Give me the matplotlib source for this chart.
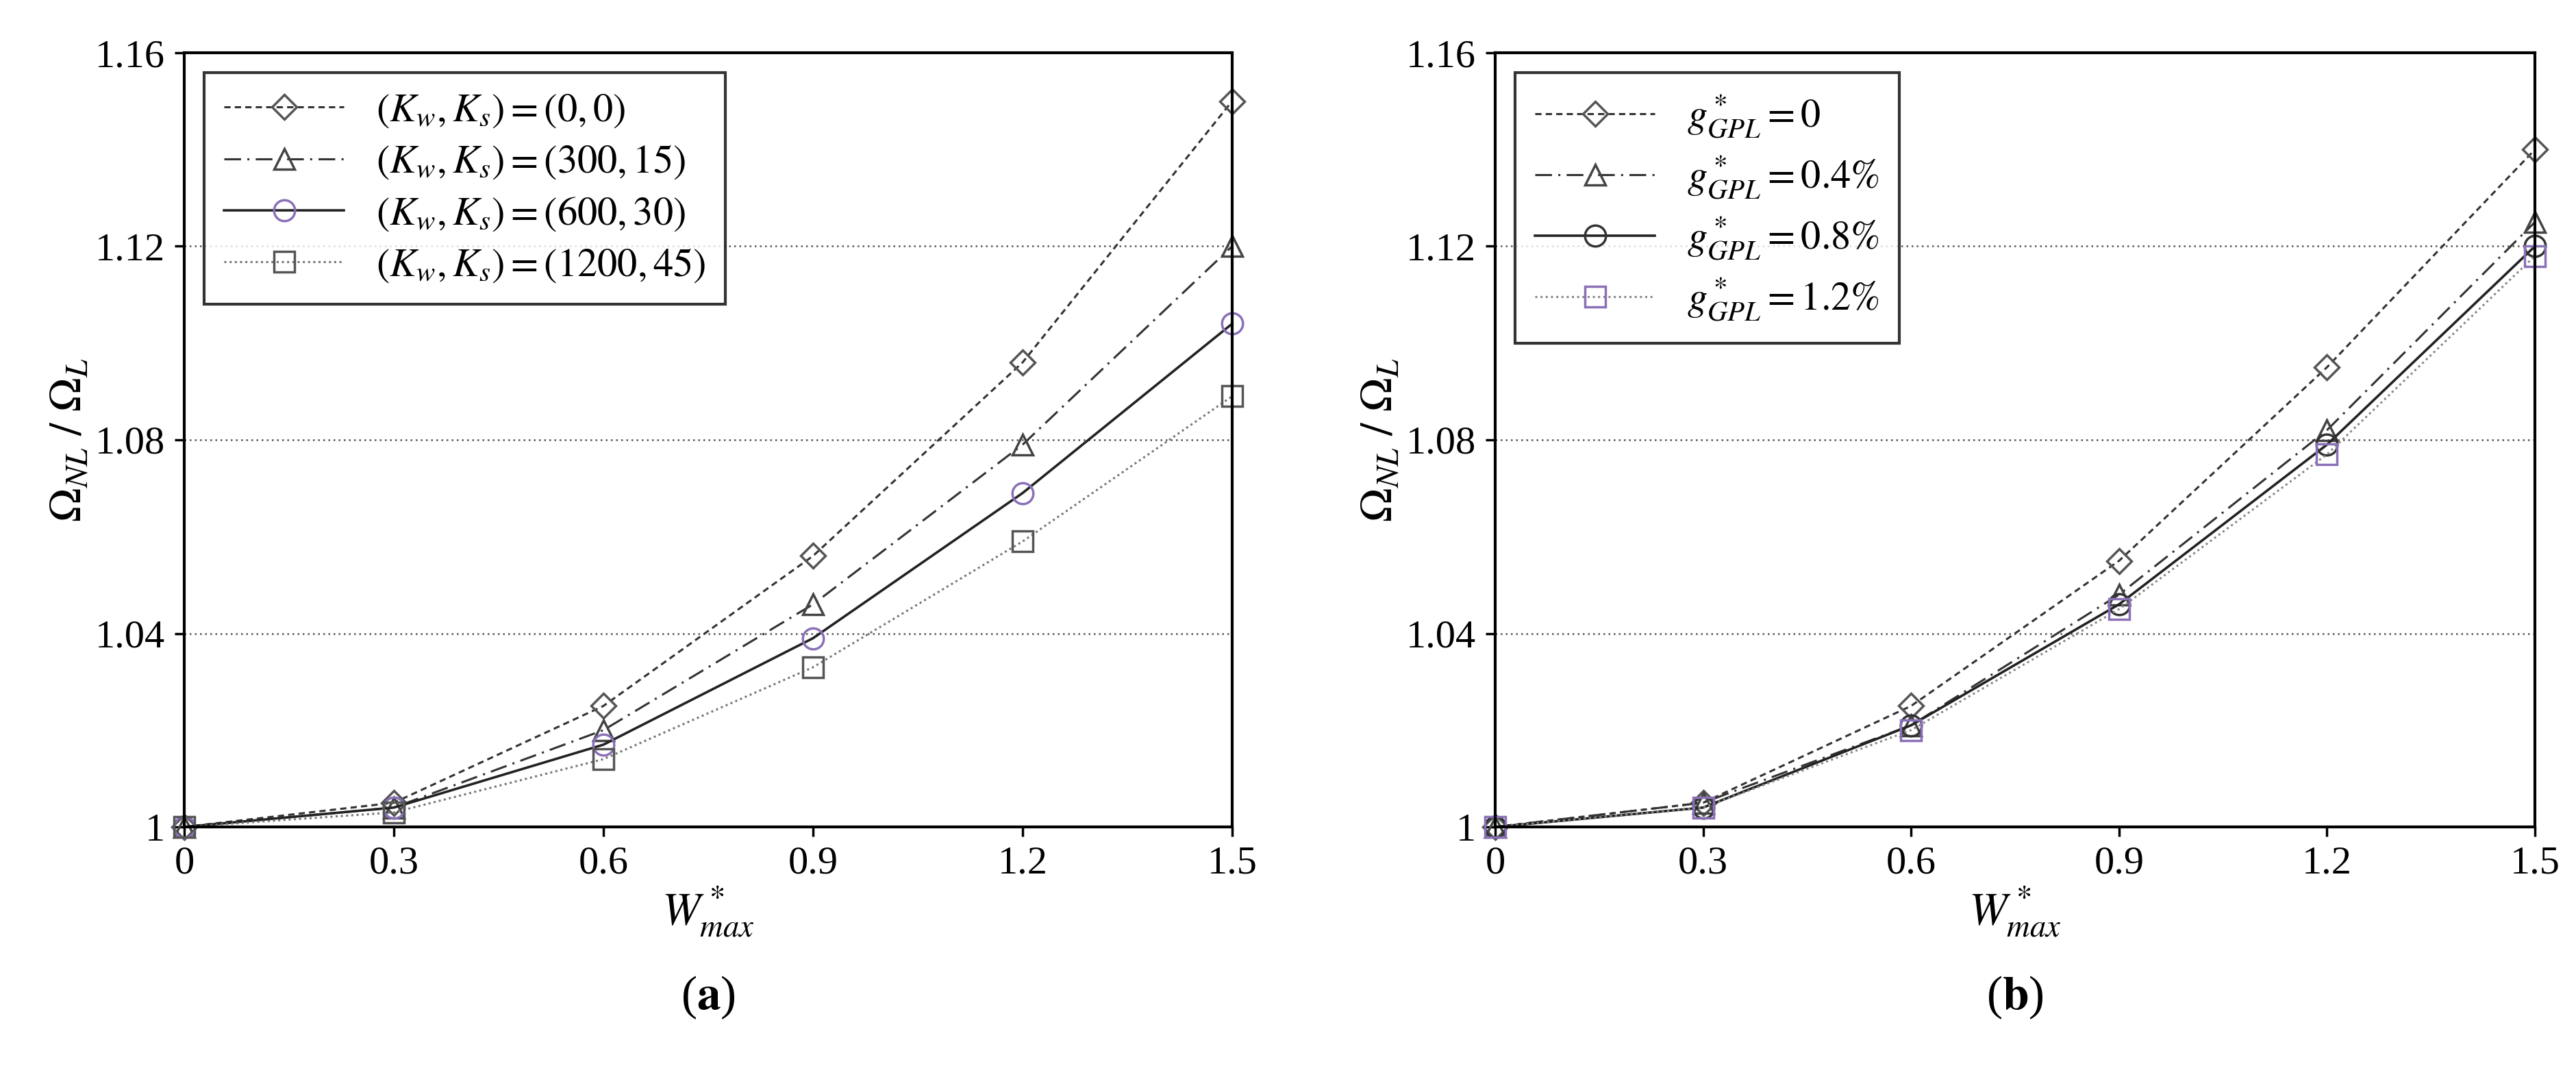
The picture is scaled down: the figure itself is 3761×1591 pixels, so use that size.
import matplotlib
matplotlib.use("Agg")
import matplotlib.pyplot as plt
import numpy as np

plt.rcParams['font.family'] = ['Liberation Serif', 'DejaVu Serif']
plt.rcParams['mathtext.fontset'] = 'stix'

x = [0, 0.3, 0.6, 0.9, 1.2, 1.5]
a_labels = [r'$(K_w,K_s)=(0,0)$', r'$(K_w,K_s)=(300,15)$', r'$(K_w,K_s)=(600,30)$', r'$(K_w,K_s)=(1200,45)$']
a_vals = [
    [1, 1.005, 1.025, 1.056, 1.096, 1.150],
    [1, 1.004, 1.020, 1.046, 1.079, 1.120],
    [1, 1.004, 1.017, 1.039, 1.069, 1.104],
    [1, 1.003, 1.014, 1.033, 1.059, 1.089],
]
b_labels = [r'$g^*_{GPL}=0$', r'$g^*_{GPL}=0.4\%$', r'$g^*_{GPL}=0.8\%$', r'$g^*_{GPL}=1.2\%$']
b_vals = [
    [1, 1.005, 1.025, 1.055, 1.095, 1.140],
    [1, 1.005, 1.021, 1.048, 1.082, 1.125],
    [1, 1.004, 1.021, 1.046, 1.079, 1.120],
    [1, 1.004, 1.020, 1.045, 1.077, 1.118],
]
yticks = [1, 1.04, 1.08, 1.12, 1.16]
ytick_labels = ['1', '1.04', '1.08', '1.12', '1.16']
xticks = [0, 0.3, 0.6, 0.9, 1.2, 1.5]

fig = plt.figure(figsize=(37.61, 15.91), dpi=100)
W, H = 3761, 1591
axa = fig.add_axes([269/W, 1-1207/H, (1799-269)/W, (1207-77)/H])
axb = fig.add_axes([2183/W, 1-1207/H, (3701-2183)/W, (1207-77)/H])

styles_a = [
    dict(ls=(0, (3, 2)), marker='D', color='#333333', mec='#555555', lw=2.2, ms=18),
    dict(ls=(0, (8, 3, 1, 3)), marker='^', color='#333333', mec='#444444', lw=2.2, ms=22),
    dict(ls='-', marker='o', color='#222222', mec='#8a70b8', lw=2.6, ms=22),
    dict(ls=(0, (1, 1.5)), marker='s', color='#777777', mec='#555555', lw=2.2, ms=22),
]
styles_b = [
    dict(ls=(0, (3, 2)), marker='D', color='#333333', mec='#555555', lw=2.2, ms=18),
    dict(ls=(0, (8, 3, 1, 3)), marker='^', color='#333333', mec='#444444', lw=2.2, ms=22),
    dict(ls='-', marker='o', color='#222222', mec='#333333', lw=2.6, ms=22),
    dict(ls=(0, (1, 1.5)), marker='s', color='#888888', mec='#8a70b8', lw=2.2, ms=22),
]

for ax, vals, labels, styles, tag in [(axa, a_vals, a_labels, styles_a, 'a'), (axb, b_vals, b_labels, styles_b, 'b')]:
    for v, l, s in zip(vals, labels, styles):
        ax.plot(x, v, label=l, mfc='none', mew=2.5, clip_on=False, **s)
    ax.set_xlim(0, 1.5)
    ax.set_ylim(1, 1.16)
    ax.set_xticks(xticks)
    ax.set_xticklabels(['0', '0.3', '0.6', '0.9', '1.2', '1.5'])
    ax.set_yticks(yticks)
    ax.set_yticklabels(ytick_labels)
    ax.tick_params(labelsize=42, width=2.5, length=10, pad=10)
    ax.grid(axis='y', ls=(0, (1, 2)), color='#555555', lw=1.8)
    for sp in ax.spines.values():
        sp.set_linewidth(3)
    ax.set_xlabel(r'$W^*_{max}$', fontsize=48)
    ax.set_ylabel(r'$\Omega_{NL}\ /\ \Omega_L$', fontsize=48)
    leg = ax.legend(loc='upper left', fontsize=42, frameon=True, fancybox=False,
                    edgecolor='black', borderpad=0.5, handlelength=3, labelspacing=0.35)
    leg.get_frame().set_linewidth(3)
    ax.text(0.5, -0.19, r'(' + r'$\mathbf{' + tag + '}$' + ')', transform=ax.transAxes,
            ha='center', va='top', fontsize=50)

fig.savefig('out.png', dpi=100, facecolor='white')
